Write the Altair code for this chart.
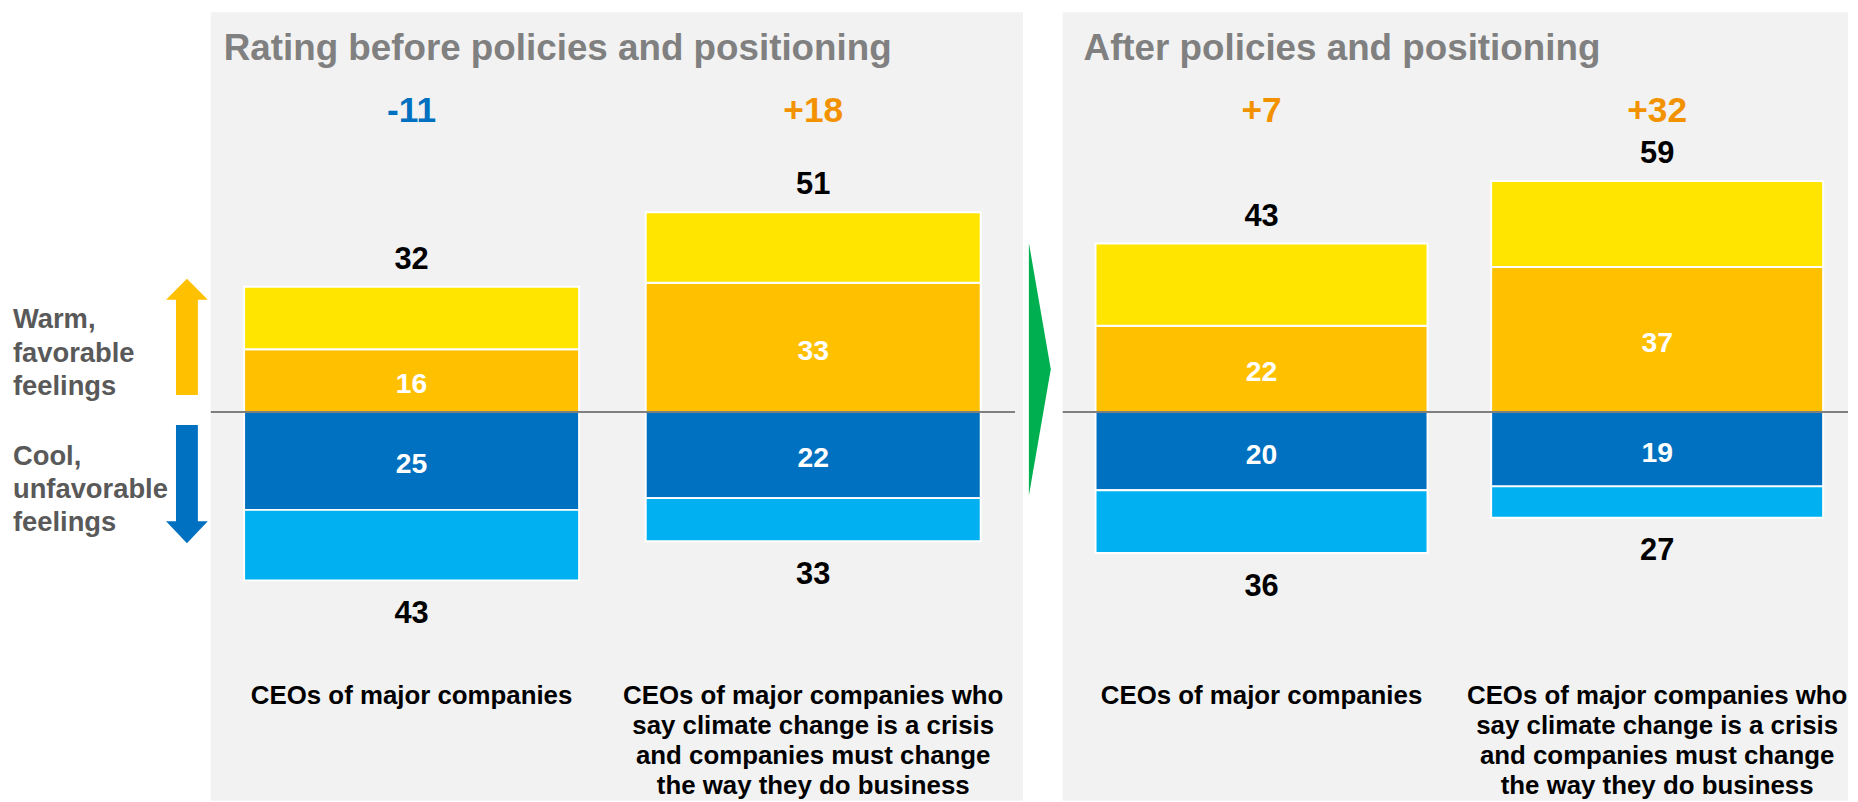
import altair as alt
import pandas as pd

FONT = "Liberation Sans"

# ---- data ----
panel_titles = ["Rating before policies and positioning", "After policies and positioning"]
group_keys = ["all", "crisis"]
group_labels = [
    "CEOs of major companies",
    "CEOs of major companies who\nsay climate change is a crisis\nand companies must change\nthe way they do business",
]
# index: [panel][group]
warm_total = [[32, 51], [43, 59]]
very_warm = [[16, 33], [22, 37]]
cool_total = [[43, 33], [36, 27]]
very_cool = [[25, 22], [20, 19]]

seg_keys = ["very_warm", "somewhat_warm", "very_cool", "somewhat_cool", "net_neg", "net_pos"]
seg_colors = ["#FFC000", "#FFE500", "#0070C0", "#00B0F0", "#0070C0", "#F39200"]

warm_note = "Warm,\nfavorable\nfeelings"
cool_note = "Cool,\nunfavorable\nfeelings"

# ---- layout constants ----
H = 793
PX_PER_UNIT = 3.94
ZERO_PX = 402
Y_DOMAIN = [-(H - ZERO_PX) / PX_PER_UNIT, ZERO_PX / PX_PER_UNIT]


def frames(p):
    bars, inner, tops, bottoms, nets, cats = [], [], [], [], [], []
    for i, g in enumerate(group_keys):
        vw, wt = very_warm[p][i], warm_total[p][i]
        vc, ct = very_cool[p][i], cool_total[p][i]
        bars += [
            {"g": g, "seg": "very_warm", "y0": 0, "y1": vw},
            {"g": g, "seg": "somewhat_warm", "y0": vw, "y1": wt},
            {"g": g, "seg": "very_cool", "y0": 0, "y1": -vc},
            {"g": g, "seg": "somewhat_cool", "y0": -vc, "y1": -ct},
        ]
        inner += [
            {"g": g, "ym": vw / 2, "label": str(vw)},
            {"g": g, "ym": -vc / 2, "label": str(vc)},
        ]
        tops.append({"g": g, "y": wt, "label": str(wt)})
        bottoms.append({"g": g, "y": -ct, "label": str(ct)})
        n = wt - ct
        nets.append({"g": g, "seg": "net_neg" if n < 0 else "net_pos", "label": f"{n:+d}"})
        cats.append({"g": g, "label": group_labels[i]})
    return [pd.DataFrame(d) for d in (bars, inner, tops, bottoms, nets, cats)]


def panel(p, width, title_x, pi, po, al, rule_x2):
    bars, inner, tops, bottoms, nets, cats = frames(p)
    xs = alt.Scale(domain=group_keys, paddingInner=pi, paddingOuter=po, align=al)
    ys = alt.Scale(domain=Y_DOMAIN, nice=False, zero=False)
    cs = alt.Scale(domain=seg_keys, range=seg_colors)
    X = alt.X("g:N", scale=xs, axis=None)

    bg = alt.Chart(pd.DataFrame({"k": [0]})).mark_rect(color="#F2F2F2").encode(
        x=alt.value(0), x2=alt.value(width), y=alt.value(0), y2=alt.value(H)
    )
    bar = alt.Chart(bars).mark_bar(stroke="white", strokeWidth=2).encode(
        x=X,
        y=alt.Y("y0:Q", scale=ys, axis=None),
        y2="y1:Q",
        color=alt.Color("seg:N", scale=cs, legend=None),
    )
    rule = alt.Chart(pd.DataFrame({"zero": [0]})).mark_rule(color="#808080", strokeWidth=2).encode(
        x=alt.value(0), x2=alt.value(rule_x2), y=alt.Y("zero:Q", scale=ys, axis=None)
    )
    seg_txt = alt.Chart(inner).mark_text(
        font=FONT, fontWeight="bold", fontSize=28.5, color="white", baseline="middle", dy=3.5
    ).encode(x=X, y=alt.Y("ym:Q", scale=ys, axis=None), text="label:N")
    top_txt = alt.Chart(tops).mark_text(
        font=FONT, fontWeight="bold", fontSize=31, color="black", baseline="alphabetic", dy=-18
    ).encode(x=X, y=alt.Y("y:Q", scale=ys, axis=None), text="label:N")
    bot_txt = alt.Chart(bottoms).mark_text(
        font=FONT, fontWeight="bold", fontSize=31, color="black", baseline="alphabetic", dy=43
    ).encode(x=X, y=alt.Y("y:Q", scale=ys, axis=None), text="label:N")
    net_txt = alt.Chart(nets).mark_text(
        font=FONT, fontWeight="bold", fontSize=35.5, baseline="alphabetic"
    ).encode(
        x=X, y=alt.value(110), text="label:N",
        color=alt.Color("seg:N", scale=cs, legend=None),
    )
    cat_txt = alt.Chart(cats).mark_text(
        font=FONT, fontWeight="bold", fontSize=26, color="black", baseline="alphabetic",
        lineBreak="\n", lineHeight=30, clip=True,
    ).encode(x=X, y=alt.value(696), text="label:N")
    title = alt.Chart(pd.DataFrame({"t": [panel_titles[p]]})).mark_text(
        font=FONT, fontWeight="bold", fontSize=37, color="#808080", align="left", baseline="alphabetic"
    ).encode(x=alt.value(title_x), y=alt.value(48), text="t:N")

    return alt.layer(bg, bar, rule, seg_txt, top_txt, bot_txt, net_txt, cat_txt, title).properties(
        width=width, height=H
    )


one = pd.DataFrame({"k": [0]})
arrow_up = "M0,-1L0.359,-0.641L0.188,-0.641L0.188,1L-0.188,1L-0.188,-0.641L-0.359,-0.641Z"
arrow_down = "M0,1L0.353,0.63L0.185,0.63L0.185,-1L-0.185,-1L-0.185,0.63L-0.353,0.63Z"
tri = "M-0.0866,-1L0.0866,0L-0.0866,1Z"

note_style = dict(font=FONT, fontWeight="bold", fontSize=27.5, color="#595959", align="left",
                  baseline="alphabetic", lineBreak="\n", lineHeight=33.5)
notes = alt.layer(
    alt.Chart(pd.DataFrame({"t": [warm_note]})).mark_text(**note_style).encode(
        x=alt.value(4), y=alt.value(318), text="t:N"),
    alt.Chart(pd.DataFrame({"t": [cool_note]})).mark_text(**note_style).encode(
        x=alt.value(4), y=alt.value(455), text="t:N"),
    alt.Chart(one).mark_point(shape=arrow_up, filled=True, size=117 * 117, color="#FFC000",
                              opacity=1, strokeWidth=0).encode(x=alt.value(179), y=alt.value(326.5)),
    alt.Chart(one).mark_point(shape=arrow_down, filled=True, size=119 * 119, color="#0070C0",
                              opacity=1, strokeWidth=0).encode(x=alt.value(179), y=alt.value(474.5)),
).properties(width=200, height=H)

gap = alt.Chart(one).mark_point(shape=tri, filled=True, size=254 * 254, color="#00B050",
                                opacity=1, strokeWidth=0).encode(
    x=alt.value(15), y=alt.value(359)).properties(width=35, height=H)

left = panel(0, 817, 13, 0.1658, 0.0940, 0.441, 809)
right = panel(1, 790, 21, 0.1608, 0.0729, 0.569, 790)

chart = alt.hconcat(notes, left, gap, right, spacing=0).properties(
    padding={"left": 0, "top": 1, "right": 0, "bottom": 0}
).configure_view(stroke="transparent")

chart.save("out.html", embed_options={"renderer": "svg", "actions": False})
